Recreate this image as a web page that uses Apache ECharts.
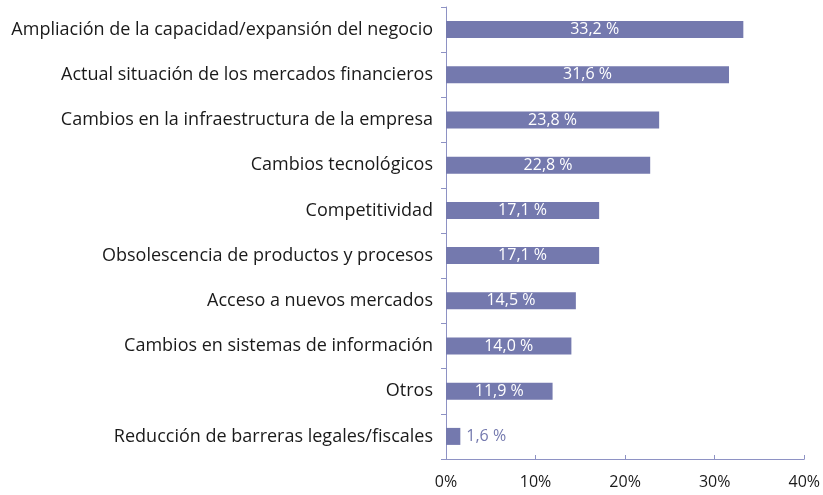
<!DOCTYPE html>
<html>
<head>
<meta charset="utf-8">
<script src="https://cdn.jsdelivr.net/npm/echarts@6/dist/echarts.min.js"></script>
<style>
  html, body { margin: 0; padding: 0; background: #fff; }
  #chart { width: 823px; height: 495px; }
</style>
</head>
<body>
<div id="chart"></div>
<script>
// categories listed bottom to top (ECharts category y axis starts at bottom)
const categories = [
  'Reducción de barreras legales/fiscales',
  'Otros',
  'Cambios en sistemas de información',
  'Acceso a nuevos mercados',
  'Obsolescencia de productos y procesos',
  'Competitividad',
  'Cambios tecnológicos',
  'Cambios en la infraestructura de la empresa',
  'Actual situación de los mercados financieros',
  'Ampliación de la capacidad/expansión del negocio'
];
const values = [1.6, 11.9, 14.0, 14.5, 17.1, 17.1, 22.8, 23.8, 31.6, 33.2];
const xTicks = [0, 10, 20, 30, 40];

const barColor = '#7479ae';
const axisColor = '#8e92c4';
const fontFamily = '"Open Sans", "Noto Sans", sans-serif';

function fmt(v) {
  return v.toFixed(1).replace('.', ',') + ' %';
}

let myChart = echarts.init(document.getElementById('chart'));
myChart.setOption({
  animation: false,
  backgroundColor: '#fff',
  grid: { left: 446, right: 18, top: 7, bottom: 36, containLabel: false },
  xAxis: {
    type: 'value',
    min: xTicks[0],
    max: xTicks[xTicks.length - 1],
    interval: 10,
    axisLine: { show: true, lineStyle: { color: axisColor, width: 1 } },
    axisTick: { show: true, inside: true, length: 4, lineStyle: { color: axisColor } },
    splitLine: { show: false },
    axisLabel: {
      color: '#1a1a1a',
      fontSize: 16,
      fontFamily: fontFamily,
      margin: 15,
      formatter: function (v) { return v + '%'; }
    }
  },
  yAxis: {
    type: 'category',
    data: categories,
    axisLine: { show: true, lineStyle: { color: axisColor, width: 1 } },
    axisTick: { show: true, length: 5, lineStyle: { color: axisColor } },
    axisLabel: {
      color: '#1a1a1a',
      fontSize: 18,
      fontFamily: fontFamily,
      margin: 13,
      padding: [3, 0, 0, 0]
    }
  },
  series: [{
    type: 'bar',
    barWidth: 17,
    data: values.map(function (v) {
      const small = v < 5;
      return {
        value: v,
        label: small ? { position: 'right', color: barColor, distance: 6 } : undefined
      };
    }),
    itemStyle: { color: barColor },
    label: {
      show: true,
      position: 'inside',
      color: '#fff',
      fontSize: 16,
      fontFamily: fontFamily,
      formatter: function (p) { return fmt(p.value); }
    }
  }]
});
</script>
</body>
</html>
